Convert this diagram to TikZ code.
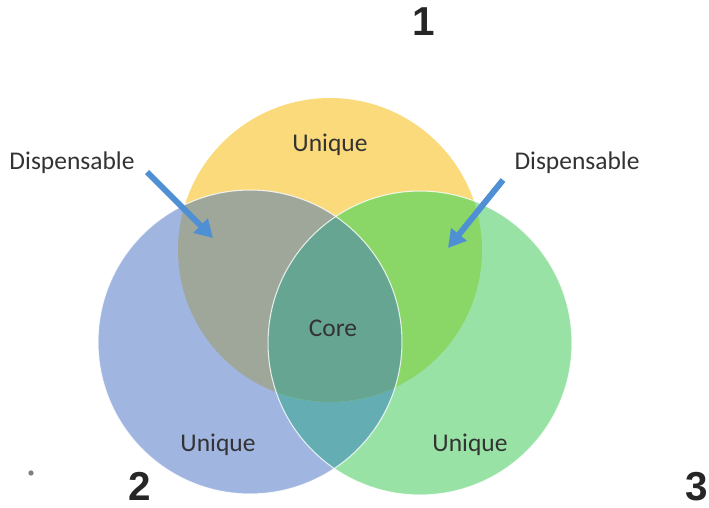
\documentclass[tikz,border=0pt]{standalone}
\usepackage{fontspec}
\setmainfont{Carlito}
\newfontfamily\digitfont{Liberation Sans}
\usetikzlibrary{arrows.meta}

\definecolor{setyellow}{HTML}{FBDA7C}
\definecolor{setblue}{HTML}{A0B5E0}
\definecolor{setgreen}{HTML}{99E2A5}
\definecolor{yellowblue}{HTML}{9FA79B}
\definecolor{yellowgreen}{HTML}{8AD767}
\definecolor{bluegreen}{HTML}{63ADB3}
\definecolor{corecol}{HTML}{66A592}
\definecolor{arrowblue}{HTML}{4F8FD3}

\begin{document}
\begin{tikzpicture}
    [x=0.02cm,y=-0.02cm,
     lbl/.style={font=\fontsize{14.5}{16}\selectfont,text=black!80},
     num/.style={font=\digitfont\bfseries\fontsize{23}{26}\selectfont,text=black!85},
     pointer/.style={draw=arrowblue,line width=3.4pt,-{Triangle[length=10pt,width=11pt]}},
     rim/.style={draw=white,line width=0.6pt,opacity=0.8}]
    \useasboundingbox (0,0) rectangle (709,507);

    %centres of the three sets
    \coordinate (Y) at (330,250);
    \coordinate (B) at (250,342);
    \coordinate (G) at (420,343);

    %draw the plain sets
    \fill[setyellow] (Y) circle (3.04cm);
    \fill[setblue]   (B) circle (3.04cm);
    \fill[setgreen]  (G) circle (3.04cm);

    %two-way overlaps
    \begin{scope}
        \clip (B) circle (3.04cm);
        \fill[yellowblue] (Y) circle (3.04cm);
        \fill[bluegreen]  (G) circle (3.04cm);
    \end{scope}
    \begin{scope}
        \clip (G) circle (3.04cm);
        \fill[yellowgreen] (Y) circle (3.04cm);
    \end{scope}
    %three-way overlap
    \begin{scope}
        \clip (B) circle (3.04cm);
        \clip (G) circle (3.04cm);
        \fill[corecol] (Y) circle (3.04cm);
    \end{scope}

    %thin rims on the lower sets
    \draw[rim] (B) circle (3.04cm);
    \draw[rim] (G) circle (3.04cm);

    %region labels
    \node[lbl] (uniq1) at (330,145) {Unique};
    \node[lbl] (uniq2) at (218,445) {Unique};
    \node[lbl] (uniq3) at (470,445) {Unique};
    \node[lbl] (core)  at (333,328) {Core};
    \node[lbl] (displ) at (72,163)  {Dispensable};
    \node[lbl] (dispr) at (577,163) {Dispensable};

    %set numbers
    \node[num] (set1) at (424,22)  {1};
    \node[num] (set2) at (140,486) {2};
    \node[num] (set3) at (697,487) {3};
    \node[circle,fill=black!50,inner sep=0pt,minimum size=3pt] (dot) at (31,473) {};

    %arrows into the dispensable parts
    \coordinate (displ-tail) at (147,172);
    \coordinate (displ-tip)  at (213,238);
    \coordinate (dispr-tail) at (503,180);
    \coordinate (dispr-tip)  at (448,248);
    \draw[pointer] (displ-tail) -- (displ-tip);
    \draw[pointer] (dispr-tail) -- (dispr-tip);
\end{tikzpicture}
\end{document}
